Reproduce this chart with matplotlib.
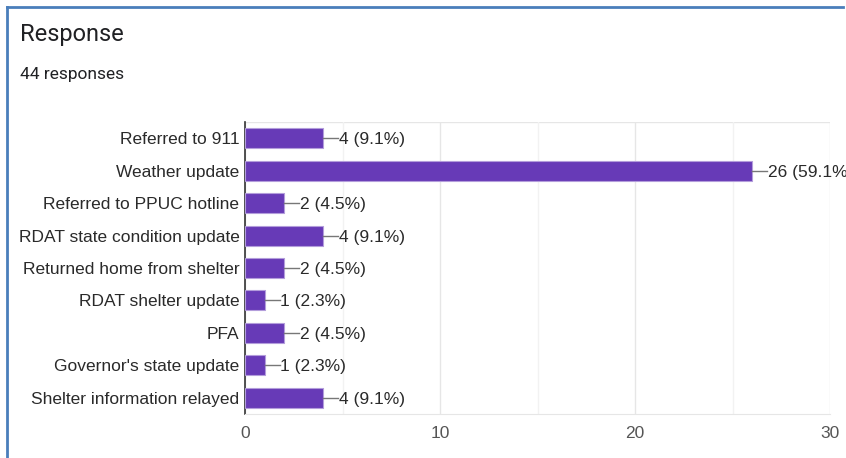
import matplotlib.pyplot as plt
from matplotlib.lines import Line2D

categories = ["Referred to 911", "Weather update", "Referred to PPUC hotline",
              "RDAT state condition update", "Returned home from shelter",
              "RDAT shelter update", "PFA", "Governor's state update",
              "Shelter information relayed"]
counts = [4, 26, 2, 4, 2, 1, 2, 1, 4]
percents = [9.1, 59.1, 4.5, 9.1, 4.5, 2.3, 4.5, 2.3, 9.1]
total = 44
xticks = [0, 10, 20, 30]

fig = plt.figure(figsize=(8.46, 4.58), dpi=100)
ax = fig.add_axes([0.2896, 0.0961, 0.6915, 0.6375])

ypos = list(range(len(categories)))
ax.barh(ypos, counts, height=0.62, color="#673ab7", edgecolor="#b39ddb",
        linewidth=0.8, zorder=3)

# label with short connector line
for y, c, p in zip(ypos, counts, percents):
    ax.plot([c, c + 0.78], [y, y], color="#777777", lw=1, zorder=3,
            clip_on=False)
    ax.text(c + 0.8, y, f"{c} ({p}%)", va="center_baseline", ha="left",
            fontsize=12.5, color="#2a2a2a", family="Liberation Sans",
            clip_on=False)

ax.set_ylim(len(categories) - 0.5, -0.5)
ax.set_xlim(0, 30)
ax.set_yticks(ypos)
ax.set_yticklabels(categories, fontsize=12.5, color="#2a2a2a",
                   family="Liberation Sans", va="center_baseline")
ax.set_xticks(xticks)
ax.set_xticklabels([str(t) for t in xticks], fontsize=12.5, color="#555555",
                   family="Liberation Sans")
ax.set_xticks([5, 15, 25], minor=True)
ax.tick_params(axis="both", which="both", length=0, pad=4)
ax.tick_params(axis="x", pad=9)
ax.grid(axis="x", which="major", color="#e6e6e6", lw=1, zorder=0)
ax.grid(axis="x", which="minor", color="#f2f2f2", lw=1, zorder=0)
for s in ["top", "right"]:
    ax.spines[s].set_visible(False)
ax.axhline(-0.5, color="#e6e6e6", lw=1, zorder=0)
ax.spines["bottom"].set_color("#e6e6e6")
ax.spines["left"].set_color("#333333")
ax.spines["left"].set_linewidth(1.2)

fig.text(20 / 846, 1 - 35 / 458, "Response", fontsize=17, va="center",
         ha="left", color="#202124", family="Roboto")
fig.text(20 / 846, 1 - 75 / 458, f"{total} responses", fontsize=12.5,
         va="center", ha="left", color="#202124", family="Roboto")

# blue frame of the screenshot
bc = "#4a7ebb"
fig.add_artist(Line2D([7 / 846, 843 / 846], [1 - 7 / 458, 1 - 7 / 458],
                      color=bc, lw=2, transform=fig.transFigure))
fig.add_artist(Line2D([7 / 846, 7 / 846], [1 - 7 / 458, 0],
                      color=bc, lw=2, transform=fig.transFigure))

fig.savefig("out.png", dpi=100)
